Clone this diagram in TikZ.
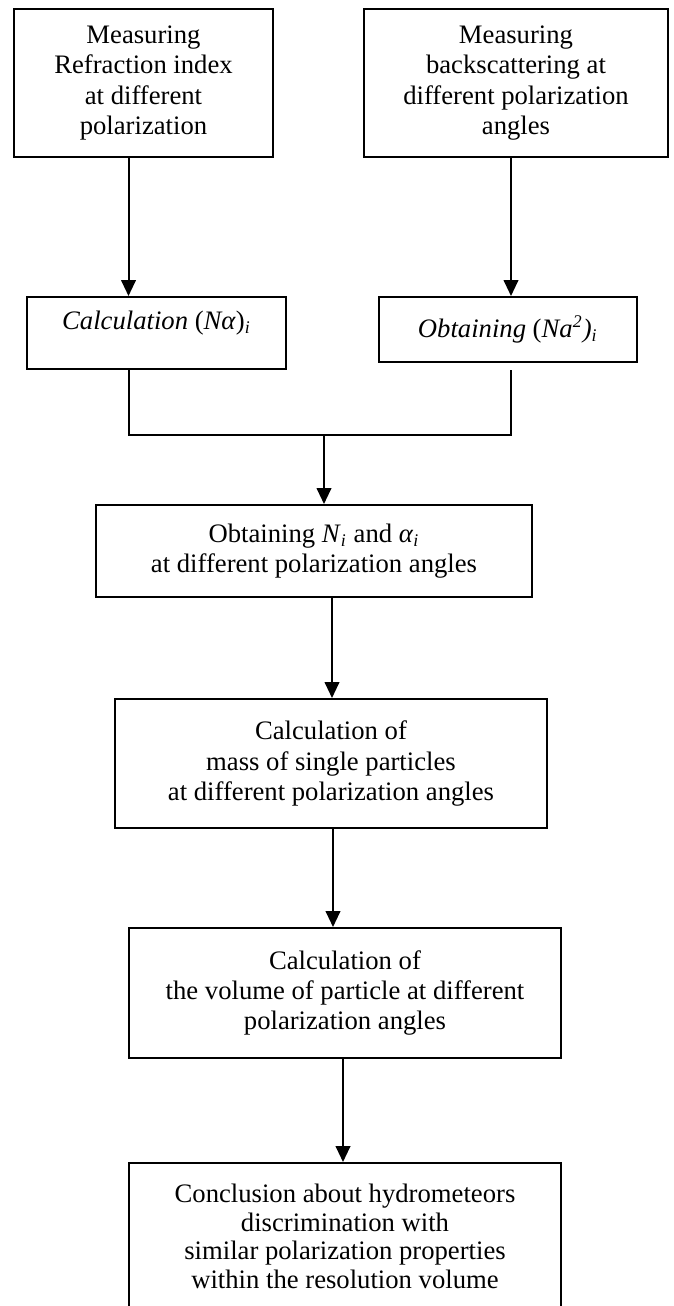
\documentclass[tikz,border=0pt]{standalone}
\usepackage{fontspec}
\setmainfont{Liberation Serif}
\usepackage{tikz}
\usetikzlibrary{arrows.meta, positioning, calc}
\tikzset{
  box/.style={rectangle, draw=black, line width=0.9pt, align=center,
    inner sep=2pt, font={\fontsize{12}{13.7}\selectfont}},
  arrow/.style={-{Triangle[width=6.6pt,length=7.2pt]}, line width=0.9pt, color=black},
  line/.style={line width=0.9pt, color=black}
}

\begin{document}
\begin{tikzpicture}[x=0.45pt, y=-0.45pt]
  \clip (0,0) rectangle (673,1306);

  % ── Measurements ──────────────────────────────────────────────────
  \node[box, minimum width=116.55pt, minimum height=66.6pt] (refr) at (143.5,83)
    {Measuring\\Refraction index\\at different\\polarization};
  \node[box, minimum width=136.8pt, minimum height=66.6pt] (back) at (516,83)
    {Measuring\\backscattering at\\different polarization\\angles};

  % ── Products N alpha and N a^2 ────────────────────────────────────
  \node[box, minimum width=116.55pt, minimum height=32.4pt, text depth=11.6pt] (calcna) at (156.5,333)
    {\textit{Calculation} (\textit{Nα})\textsubscript{\textit{i}}};
  \node[box, minimum width=116.3pt, minimum height=29.25pt] (obtna) at (507.8,329.5)
    {\textit{Obtaining} (\textit{Na}\textsuperscript{\textit{2}}\textit{)}\textsubscript{\textit{i}}};

  % ── Chain of results ──────────────────────────────────────────────
  \node[box, minimum width=196.2pt, minimum height=41.4pt] (nalpha) at (314,551)
    {Obtaining \textit{N}\textsubscript{\textit{i}} and \textit{α}\textsubscript{\textit{i}}\\at different polarization angles};
  \node[box, minimum width=194.4pt, minimum height=58.05pt] (mass) at (331,763.5)
    {Calculation of\\mass of single particles\\at different polarization angles};
  \node[box, minimum width=194.4pt, minimum height=58.5pt] (volume) at (345,993)
    {Calculation of\\the volume of particle at different\\polarization angles};
  \node[box, minimum width=194.4pt, minimum height=66.15pt,
    font={\fontsize{12}{12.9}\selectfont}] (concl) at (345,1236.5)
    {Conclusion about hydrometeors\\discrimination with\\similar polarization properties\\within the resolution volume};

  % ── Connector positions ───────────────────────────────────────────
  \coordinate (xl) at (128.5,0);
  \coordinate (xr) at (511,0);
  \coordinate (jl) at (128.5,435);
  \coordinate (jr) at (511,435);
  \coordinate (jm) at (324,435);
  \coordinate (jrtop) at (511,370);
  \coordinate (x56) at (332,0);
  \coordinate (x67) at (333,0);
  \coordinate (x78) at (343,0);

  % ── Connectors ────────────────────────────────────────────────────
  \draw[arrow] (refr.south -| xl) -- (calcna.north -| xl);
  \draw[arrow] (back.south -| xr) -- (obtna.north -| xr);
  \draw[line] (calcna.south -| xl) -- (jl) -- (jr) -- (jrtop);
  \draw[arrow] (jm) -- (jm |- nalpha.north);
  \draw[arrow] (nalpha.south -| x56) -- (mass.north -| x56);
  \draw[arrow] (mass.south -| x67) -- (volume.north -| x67);
  \draw[arrow] (volume.south -| x78) -- (concl.north -| x78);
\end{tikzpicture}
\end{document}
